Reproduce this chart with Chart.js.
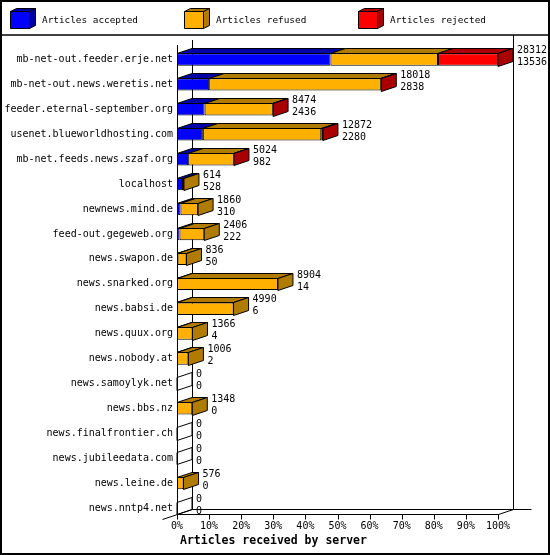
<!DOCTYPE html>
<html><head><meta charset="utf-8">
<script src="https://cdn.jsdelivr.net/npm/chart.js@4.4.1/dist/chart.umd.min.js"></script>
<style>html,body{margin:0;padding:0;background:#fff}canvas{display:block}</style>
</head><body>
<canvas id="c" width="550" height="555"></canvas>
<script>
const categories = [
  'mb-net-out.feeder.erje.net','mb-net-out.news.weretis.net','feeder.eternal-september.org',
  'usenet.blueworldhosting.com','mb-net.feeds.news.szaf.org','localhost','newnews.mind.de',
  'feed-out.gegeweb.org','news.swapon.de','news.snarked.org','news.babsi.de','news.quux.org',
  'news.nobody.at','news.samoylyk.net','news.bbs.nz','news.finalfrontier.ch',
  'news.jubileedata.com','news.leine.de','news.nntp4.net'
];
const totals   = [28312,18018,8474,12872,5024,614,1860,2406,836,8904,4990,1366,1006,0,1348,0,0,576,0];
const accepted = [13536,2838,2436,2280,982,528,310,222,50,14,6,4,2,0,0,0,0,0,0];
const refused  = [9486,15140,6008,10442,4022,86,1550,2184,786,8890,4984,1362,1004,0,1348,0,0,576,0];
const rejected = [5290,40,30,150,20,0,0,0,0,0,0,0,0,0,0,0,0,0,0];
const seriesNames = ['Articles accepted','Articles refused','Articles rejected'];
const xTickLabels = ['0%','10%','20%','30%','40%','50%','60%','70%','80%','90%','100%'];
const axisTitle = 'Articles received by server';

const FRONT = ['#0000ff','#ffb000','#ff0000'];
const SIDE  = ['#0000a8','#b07c00','#aa0000'];
const DX = 15, DY = 5;
const FONT = 'DejaVu Sans Mono';
const maxTotal = Math.max(...totals);
const pct = a => a.map(v => v / maxTotal * 100);
const P = v => Math.round(v) + 0.5;

function line(ctx, x1, y1, x2, y2){ ctx.beginPath(); ctx.moveTo(x1,y1); ctx.lineTo(x2,y2); ctx.stroke(); }
function poly(ctx, pts, fill){
  ctx.beginPath(); ctx.moveTo(pts[0][0],pts[0][1]);
  for (let k=1;k<pts.length;k++) ctx.lineTo(pts[k][0],pts[k][1]);
  ctx.closePath();
  if (fill){ ctx.fillStyle = fill; ctx.fill(); }
  ctx.stroke();
}

function geom(chart){
  const ca = chart.chartArea;
  const m0 = chart.getDatasetMeta(0).data;
  const last = m0[m0.length-1];
  const floorY = last.y + last.height/2;
  return {left: ca.left, right: chart.scales.x.getPixelForValue(100), floorY, top: ca.top};
}

const threeD = {
  id: 'threeD',
  beforeDraw(chart){
    const ctx = chart.ctx; ctx.save();
    ctx.fillStyle = '#fff'; ctx.fillRect(0,0,chart.width,chart.height);
    ctx.restore();
  },
  beforeDatasetsDraw(chart){
    const ctx = chart.ctx; const g = geom(chart);
    ctx.save(); ctx.strokeStyle = '#000'; ctx.lineWidth = 1;
    const L = P(g.left), R = P(g.right), F = P(g.floorY);
    // back wall
    line(ctx, L+DX, 40, L+DX, F-DY);
    line(ctx, R+DX, 35, R+DX, F-DY);
    line(ctx, L+DX, F-DY, R+DX+18, F-DY);
    // front axis
    line(ctx, L, 45, L, F);
    line(ctx, L, F, R, F);
    line(ctx, L-DX, F+DY, L+DX, F-DY);
    line(ctx, R, F, R+DX, F-DY);
    // ticks
    const xs = chart.scales.x;
    xTickLabels.forEach((t,k)=>{ const x = P(xs.getPixelForValue(k*10)); line(ctx, x, F, x, F+5); });
    ctx.restore();
  },
  afterDatasetsDraw(chart){
    const ctx = chart.ctx; const g = geom(chart);
    ctx.save(); ctx.strokeStyle = '#000'; ctx.lineWidth = 1; ctx.lineJoin = 'miter';
    const metas = [0,1,2].map(d => chart.getDatasetMeta(d).data);
    const raw = [accepted, refused, rejected];
    categories.forEach((c,i)=>{
      const el0 = metas[0][i];
      const yTop = Math.round(el0.y - el0.height/2) + 0.5;
      const yBot = Math.round(el0.y + el0.height/2) + 0.5;
      let end = g.left, lastD = -1;
      for (let d=0; d<3; d++){
        const el = metas[d][i];
        if (raw[d][i] > 0){
          const x0 = el.base, x1 = el.x;
          poly(ctx, [[x0,yTop],[x1,yTop],[x1+DX,yTop-DY],[x0+DX,yTop-DY]], SIDE[d]);
          end = Math.max(end, x1); lastD = d;
        }
      }
      poly(ctx, [[end,yTop],[end+DX,yTop-DY],[end+DX,yBot-DY],[end,yBot]], lastD>=0 ? SIDE[lastD] : null);
      ctx.fillStyle = '#000'; ctx.font = '10px "' + FONT + '"';
      ctx.textAlign = 'left'; ctx.textBaseline = 'middle';
      ctx.fillText(String(totals[i]), end + DX + 4, yTop - 3);
      ctx.fillText(String(accepted[i]), end + DX + 4, yTop + 8.5);
    });
    ctx.restore();
  },
  afterDraw(chart){
    const ctx = chart.ctx; ctx.save();
    ctx.strokeStyle = '#000';
    // outer border and separator
    ctx.lineWidth = 2; ctx.strokeRect(1,1,chart.width-2,chart.height-2);
    ctx.lineWidth = 1.5; line(ctx, 0, 35, chart.width, 35);
    // legend
    ctx.lineWidth = 1;
    chart.data.datasets.forEach((ds,d)=>{
      const x = 10.5 + d*174, y = 11.5, w = 19, h = 17, dx = 6, dy = 3;
      poly(ctx, [[x,y],[x+dx,y-dy],[x+w+dx,y-dy],[x+w,y]], SIDE[d]);
      poly(ctx, [[x+w,y],[x+w+dx,y-dy],[x+w+dx,y+h-dy],[x+w,y+h]], SIDE[d]);
      poly(ctx, [[x,y],[x+w,y],[x+w,y+h],[x,y+h]], FRONT[d]);
      ctx.fillStyle = '#000'; ctx.font = '9.4px "' + FONT + '"';
      ctx.textAlign = 'left'; ctx.textBaseline = 'middle';
      ctx.fillText(ds.label, 42 + d*174, 20.5);
    });
    // axis title
    ctx.fillStyle = '#000'; ctx.font = 'bold 11.5px "' + FONT + '"';
    ctx.textAlign = 'left'; ctx.textBaseline = 'middle';
    ctx.fillText(axisTitle, 180, 541.5);
    ctx.restore();
  }
};

new Chart(document.getElementById('c'), {
  type: 'bar',
  data: {
    labels: categories,
    datasets: [
      {label: seriesNames[0], data: pct(accepted), backgroundColor: FRONT[0]},
      {label: seriesNames[1], data: pct(refused),  backgroundColor: FRONT[1]},
      {label: seriesNames[2], data: pct(rejected), backgroundColor: FRONT[2]}
    ].map(ds => Object.assign(ds, {borderColor:'#000', borderWidth:1, borderSkipped:false,
          categoryPercentage:1, barPercentage:0.5}))
  },
  options: {
    indexAxis: 'y', responsive: false, animation: false, devicePixelRatio: 1,
    layout: {padding: {top: 47, right: 52, left: 0, bottom: 0}},
    plugins: {legend: {display: false}, tooltip: {enabled: false}},
    scales: {
      x: {
        stacked: true, min: 0, max: 100,
        grid: {display: false, drawTicks: false}, border: {display: false},
        ticks: {stepSize: 10, padding: 0, color: '#000', font: {family: FONT, size: 10},
                maxRotation: 0, autoSkip: false,
                callback: (v, k) => xTickLabels[k]},
        afterFit: s => { s.height = 34.5; }
      },
      y: {
        stacked: true,
        grid: {display: false, drawTicks: false}, border: {display: false},
        ticks: {padding: 4, color: '#000', font: {family: FONT, size: 10}, autoSkip: false},
        afterFit: s => { s.width = 177; }
      }
    }
  },
  plugins: [threeD]
});
</script>
</body></html>
